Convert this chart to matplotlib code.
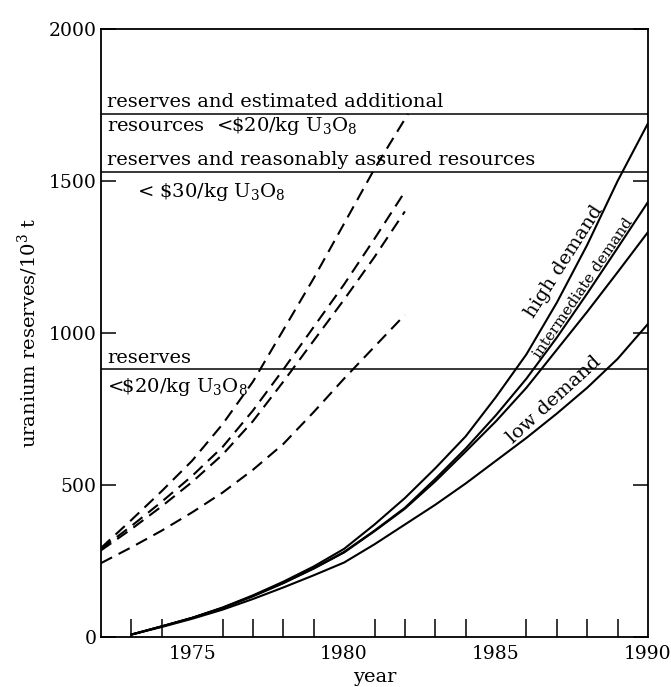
import matplotlib
matplotlib.use("Agg")
import matplotlib.pyplot as plt
import numpy as np

plt.rcParams['font.family'] = ['DejaVu Serif']
plt.rcParams['mathtext.fontset'] = 'dejavuserif'

# ---- data ----
years_solid = [1973, 1974, 1975, 1976, 1977, 1978, 1979, 1980, 1981, 1982,
               1983, 1984, 1985, 1986, 1987, 1988, 1989, 1990]
high_demand = [8, 35, 63, 97, 137, 182, 232, 290, 370, 457,
               555, 660, 790, 930, 1100, 1290, 1500, 1690]
intermediate_a = [8, 35, 63, 96, 135, 178, 226, 280, 350, 425,
                  520, 620, 730, 850, 985, 1130, 1280, 1431]
intermediate_b = [8, 35, 63, 95, 134, 177, 225, 278, 348, 422,
                  512, 610, 710, 820, 945, 1070, 1200, 1332]
low_demand = [8, 33, 60, 90, 125, 163, 203, 245, 305, 370,
              435, 505, 580, 655, 735, 820, 915, 1030]

years_dash = [1972, 1973, 1974, 1975, 1976, 1977, 1978, 1979, 1980, 1981, 1982]
years_dash_a = [1972, 1973, 1974, 1975, 1976, 1977, 1978, 1979, 1980, 1981, 1982.1]
dash_a = [293, 385, 480, 580, 700, 840, 1010, 1180, 1360, 1540, 1720]
dash_b = [290, 365, 445, 530, 625, 745, 880, 1020, 1160, 1310, 1465]
dash_c = [285, 355, 430, 510, 600, 710, 840, 975, 1110, 1250, 1400]
dash_d = [243, 295, 350, 410, 475, 550, 635, 740, 850, 955, 1060]

level_values = [1720, 1530, 880]

xticks_major = [1975, 1980, 1985, 1990]
yticks_major = [0, 500, 1000, 1500, 2000]

# ---- figure ----
fig = plt.figure(figsize=(6.71, 6.87), dpi=100)
ax = fig.add_axes([101/671, 1 - 637/687, 547/671, 608/687])
ax.set_xlim(1972, 1990)
ax.set_ylim(0, 2000)

lw = 1.5
for ys in (high_demand, intermediate_a, intermediate_b, low_demand):
    ax.plot(years_solid, ys, color='black', lw=lw, solid_capstyle='round')
ax.plot(years_dash_a, dash_a, color='black', lw=lw, dashes=(6, 3.5))
for ys in (dash_b, dash_c, dash_d):
    ax.plot(years_dash, ys, color='black', lw=lw, dashes=(6, 3.5))

for v in level_values:
    ax.axhline(v, color='black', lw=1.1)

fs = 14
ax.text(1972.2, 1742, "reserves and estimated additional", fontsize=fs, va='baseline')
ax.text(1972.2, 1664, r"resources  <\$20/kg U$_3$O$_8$", fontsize=fs, va='baseline')
ax.text(1972.2, 1552, "reserves and reasonably assured resources", fontsize=fs, va='baseline')
ax.text(1973.2, 1448, r"< \$30/kg U$_3$O$_8$", fontsize=fs, va='baseline')
ax.text(1972.2, 900, "reserves", fontsize=fs, va='baseline')
ax.text(1972.2, 806, r"<\$20/kg U$_3$O$_8$", fontsize=fs, va='baseline')

ax.text(1987.23, 1234, "high demand", fontsize=fs, rotation=57.5,
        rotation_mode='anchor', ha='center', va='center')
ax.text(1987.86, 1148, "intermediate demand", fontsize=11, rotation=55.8,
        rotation_mode='anchor', ha='center', va='center')
ax.text(1986.9, 780, "low demand", fontsize=fs, rotation=42.4,
        rotation_mode='anchor', ha='center', va='center')

# ticks
ax.set_xticks(xticks_major)
ax.set_xticks(list(range(1973, 1990)), minor=True)
ax.set_yticks(yticks_major)
ax.tick_params(axis='x', which='both', direction='in', length=13, width=1.1,
               top=False, labelsize=13.5, pad=6)
ax.tick_params(axis='x', which='major', length=0)
ax.tick_params(axis='y', which='major', direction='in', length=11, width=1.1,
               right=True, labelsize=13.5, pad=3)
for s in ax.spines.values():
    s.set_linewidth(1.3)

ax.set_xlabel("year", fontsize=14, labelpad=3)
ax.set_ylabel(r"uranium reserves/10$^3$ t", fontsize=14, labelpad=6)

fig.savefig("out.png", dpi=100)
